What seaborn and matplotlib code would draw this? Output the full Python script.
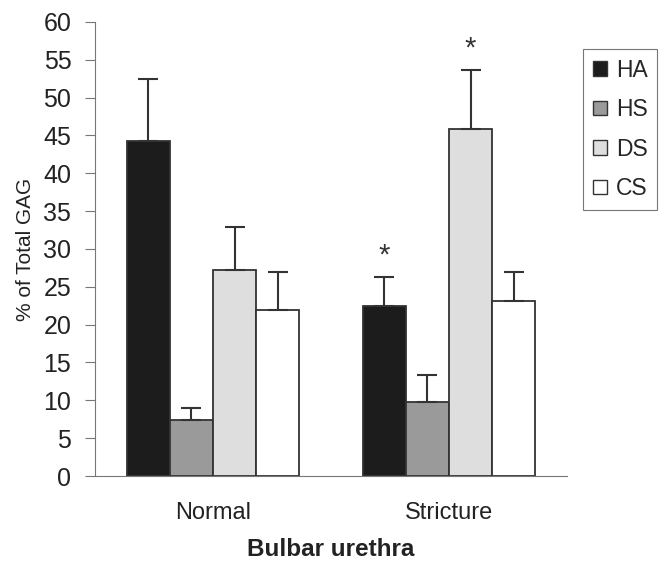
import numpy as np
import pandas as pd
import matplotlib
matplotlib.use("Agg")
import matplotlib.pyplot as plt
import seaborn as sns
from matplotlib.patches import Patch

groups = ["Normal", "Stricture"]
gags = ["HA", "HS", "DS", "CS"]
mean_normal = [44.3, 7.4, 27.2, 22.0]
mean_stricture = [22.4, 9.8, 45.8, 23.1]
err_normal = [8.1, 1.6, 5.7, 5.0]
err_stricture = [3.9, 3.6, 7.8, 3.8]
colors = ["#1c1c1c", "#9a9a9a", "#dedede", "#ffffff"]
signif = {("Stricture", "HA"), ("Stricture", "DS")}

df = pd.DataFrame({
    "group": [g for g in groups for _ in gags],
    "gag": gags * 2,
    "value": mean_normal + mean_stricture,
    "err": err_normal + err_stricture,
})

sns.set_style("white")
plt.rcParams["font.family"] = ["Liberation Sans", "DejaVu Sans"]

fig = plt.figure(figsize=(6.64, 5.62), dpi=100)
ax = fig.add_axes([0.143, 0.153, 0.711, 0.808])

sns.barplot(data=df, x="group", y="value", hue="gag", order=groups,
            hue_order=gags, palette=colors, width=0.73, saturation=1,
            edgecolor="#333333", linewidth=1.3, errorbar=None, legend=False, ax=ax)

for gag, cont in zip(gags, ax.containers):
    for grp, bar in zip(groups, cont):
        row = df[(df.group == grp) & (df.gag == gag)].iloc[0]
        xc = bar.get_x() + bar.get_width() / 2
        ax.errorbar(xc, row.value, yerr=[[0], [row.err]], fmt="none",
                    ecolor="#333333", elinewidth=1.5, capsize=7, capthick=1.5)
        if (grp, gag) in signif:
            ax.text(xc, row.value + row.err + 1.0, "*", ha="center", va="bottom",
                    fontsize=21, color="#333333")

ax.set_xlim(-0.5, 1.5)
ax.set_ylim(0, 60)
ax.set_yticks(range(0, 61, 5))
ax.set_xticks([-0.5, 0.5, 1.5], minor=True)
ax.tick_params(axis="x", which="major", length=0, labelsize=17, pad=19, colors="#222222")
ax.tick_params(axis="x", which="minor", length=6, color="#777777", width=0.8)
ax.tick_params(axis="y", length=7, color="#777777", width=0.8, labelsize=18,
               left=True, pad=10, labelcolor="#222222")
for s in ["top", "right"]:
    ax.spines[s].set_visible(False)
for s in ["left", "bottom"]:
    ax.spines[s].set_color("#777777")
    ax.spines[s].set_linewidth(0.8)

ax.set_ylabel("% of Total GAG", fontsize=15, color="#222222", labelpad=6)
ax.set_xlabel("Bulbar urethra", fontsize=17.5, fontweight="bold", color="#222222", labelpad=10)

handles = [Patch(facecolor=c, edgecolor="#333333", linewidth=1) for c in colors]
leg = fig.legend(handles, gags, loc="upper left", bbox_to_anchor=(0.878, 0.913),
                 fontsize=16.5, frameon=True, fancybox=False, handlelength=0.62,
                 handleheight=0.62, handletextpad=0.4, labelspacing=0.72,
                 borderpad=0.42, borderaxespad=0, edgecolor="#555555")
leg.get_frame().set_linewidth(0.8)

fig.savefig("out.png", dpi=100, facecolor="white")
